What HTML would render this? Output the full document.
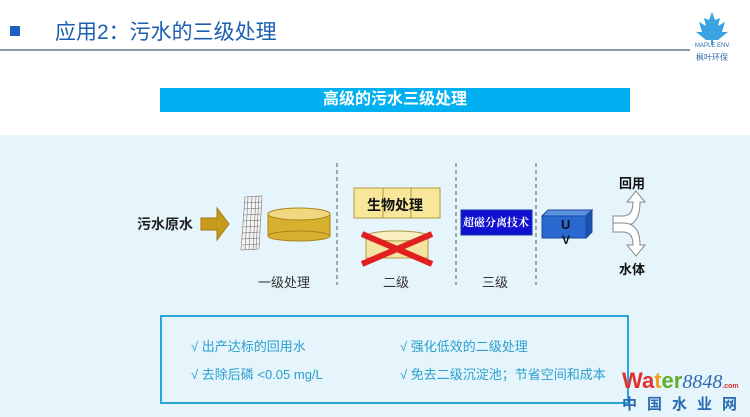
<!DOCTYPE html><html><head><meta charset="utf-8"><style>
body{margin:0;width:750px;height:417px;overflow:hidden;background:#fff;position:relative;font-family:"Liberation Sans","Noto Sans CJK SC",sans-serif}
.a{position:absolute;white-space:nowrap}
</style></head><body>
<div class="a" style="left:10px;top:26px;width:10px;height:10px;background:#1f5fbf"></div>
<div class="a" style="left:55px;top:16px;font-size:21px;color:#1a5fb0">应用2：污水的三级处理</div>
<div class="a" style="left:0;top:49px;width:690px;height:2px;background:#8a9aa8"></div>
<svg class="a" style="left:692px;top:10px" width="40" height="36"><path d="M20 2 L23 10 L28 8 L26 16 L33 12 L30 22 L36 22 L26 30 L21 30 L21 35 L19 35 L19 30 L14 30 L4 22 L10 22 L7 12 L14 16 L12 8 L17 10Z" fill="#3aa3e0"/></svg>
<div class="a" style="left:695px;top:43px;font-size:6px;color:#2d6aa8">MAPLE ENV.</div>
<div class="a" style="left:696px;top:52px;font-size:8px;color:#2d6aa8">枫叶环保</div>
<div class="a" style="left:160px;top:88px;width:470px;height:24px;background:#00b0f0;color:#fff;font-weight:bold;font-size:16px;text-align:center;line-height:24px">高级的污水三级处理</div>
<div class="a" style="left:0;top:135px;width:750px;height:282px;background:#e6f4fb"></div>
<div class="a" style="left:137px;top:214px;font-size:14px;font-weight:bold;color:#222">污水原水</div>
<svg class="a" style="left:0;top:0" width="750" height="417">
<path d="M201 218 h16 v-10 l12 16 l-12 16 v-10 h-16z" fill="#c89a1a" stroke="#a07a10"/>
<g stroke="#777" stroke-width="0.6" fill="#f4f4f4"><path d="M245 197 L262 196 L259 249 L241 250Z"/>
<path d="M244 203L262 202M244 209L261 208M243 215L261 214M243 221L261 220M243 227L260 226M242 233L260 232M242 239L260 238M242 245L259 244M248 197L245 250M252 197L249 250M256 196L253 250M259 196L256 249" fill="none"/></g>
<rect x="268" y="214" width="62" height="22" fill="#d8b030" stroke="#a88418"/>
<ellipse cx="299" cy="236" rx="31" ry="5" fill="#d8b030" stroke="#a88418"/>
<ellipse cx="299" cy="214" rx="31" ry="6" fill="#f0d880" stroke="#a88418"/>
<g stroke="#556" stroke-width="1" stroke-dasharray="4,3"><line x1="337" y1="163" x2="337" y2="285"/><line x1="456" y1="163" x2="456" y2="285"/><line x1="536" y1="163" x2="536" y2="285"/></g>
<rect x="354" y="188" width="86" height="30" fill="#f8e69a" stroke="#b09a40"/>
<line x1="383" y1="188" x2="383" y2="218" stroke="#b09a40"/><line x1="411" y1="188" x2="411" y2="218" stroke="#b09a40"/>
<rect x="366" y="236" width="62" height="22" fill="#f4e4a0" stroke="#b09a40"/>
<ellipse cx="397" cy="236" rx="31" ry="5" fill="#f8eec0" stroke="#b09a40"/>
<g stroke="#e02020" stroke-width="6"><line x1="362" y1="234" x2="432" y2="264"/><line x1="362" y1="264" x2="432" y2="234"/></g>
<rect x="461" y="210" width="71" height="25" fill="#1010d0" stroke="#1a3a9a"/>
<path d="M542 216 l6-6 h44 l-6 6z" fill="#5a90e0" stroke="#1a4a9a"/>
<path d="M586 216 l6-6 v22 l-6 6z" fill="#1a50b0" stroke="#1a4a9a"/>
<rect x="542" y="216" width="44" height="22" fill="#2a6ad0" stroke="#1a4a9a"/>
<g fill="#fff" stroke="#888" stroke-width="1">
<path d="M613 216 h10 q10 0 10 -14 h-6 l9 -11 l9 11 h-5 q0 24 -17 24 h-10z"/>
<path d="M613 223 h10 q17 0 17 22 h5 l-9 11 l-9 -11 h6 q0 -13 -10 -13 h-10z"/>
</g>
<rect x="161" y="316" width="467" height="87" fill="none" stroke="#29a8d8" stroke-width="2"/>
</svg>
<div class="a" style="left:367px;top:195px;font-size:14px;font-weight:bold;color:#111">生物处理</div>
<div class="a" style="left:463px;top:214px;font-size:11px;font-weight:bold;color:#fff;font-family:'Noto Serif CJK SC',serif">超磁分离技术</div>
<div class="a" style="left:561px;top:217px;font-size:13px;font-weight:bold;color:#111">U</div>
<div class="a" style="left:562px;top:233px;font-size:12px;font-weight:bold;color:#111">V</div>
<div class="a" style="left:619px;top:173px;font-size:13px;font-weight:bold;color:#111">回用</div>
<div class="a" style="left:619px;top:259px;font-size:13px;font-weight:bold;color:#111">水体</div>
<div class="a" style="left:258px;top:272px;font-size:13px;color:#333">一级处理</div>
<div class="a" style="left:383px;top:272px;font-size:13px;color:#333">二级</div>
<div class="a" style="left:482px;top:272px;font-size:13px;color:#333">三级</div>
<div class="a" style="left:191px;top:336px;font-size:13px;color:#29a0d0">√ 出产达标的回用水</div>
<div class="a" style="left:191px;top:364px;font-size:13px;color:#29a0d0">√ 去除后磷 &lt;0.05 mg/L</div>
<div class="a" style="left:400px;top:336px;font-size:13px;color:#29a0d0">√ 强化低效的二级处理</div>
<div class="a" style="left:400px;top:364px;font-size:13px;color:#29a0d0">√ 免去二级沉淀池；节省空间和成本</div>
<div class="a" style="left:622px;top:368px;font-size:22px;font-weight:bold;color:#e03030">Wa<span style="color:#f0a020">t</span><span style="color:#60b030">er</span><span style="font-style:italic;font-weight:normal;font-family:'Liberation Serif',serif;color:#2a6ab0;font-size:20px">8848</span><span style="font-size:7px;color:#e03030">.com</span></div>
<div class="a" style="left:622px;top:393px;font-size:15px;font-weight:bold;color:#2a6ab0;letter-spacing:10px">中国水业网</div>
</body></html>
